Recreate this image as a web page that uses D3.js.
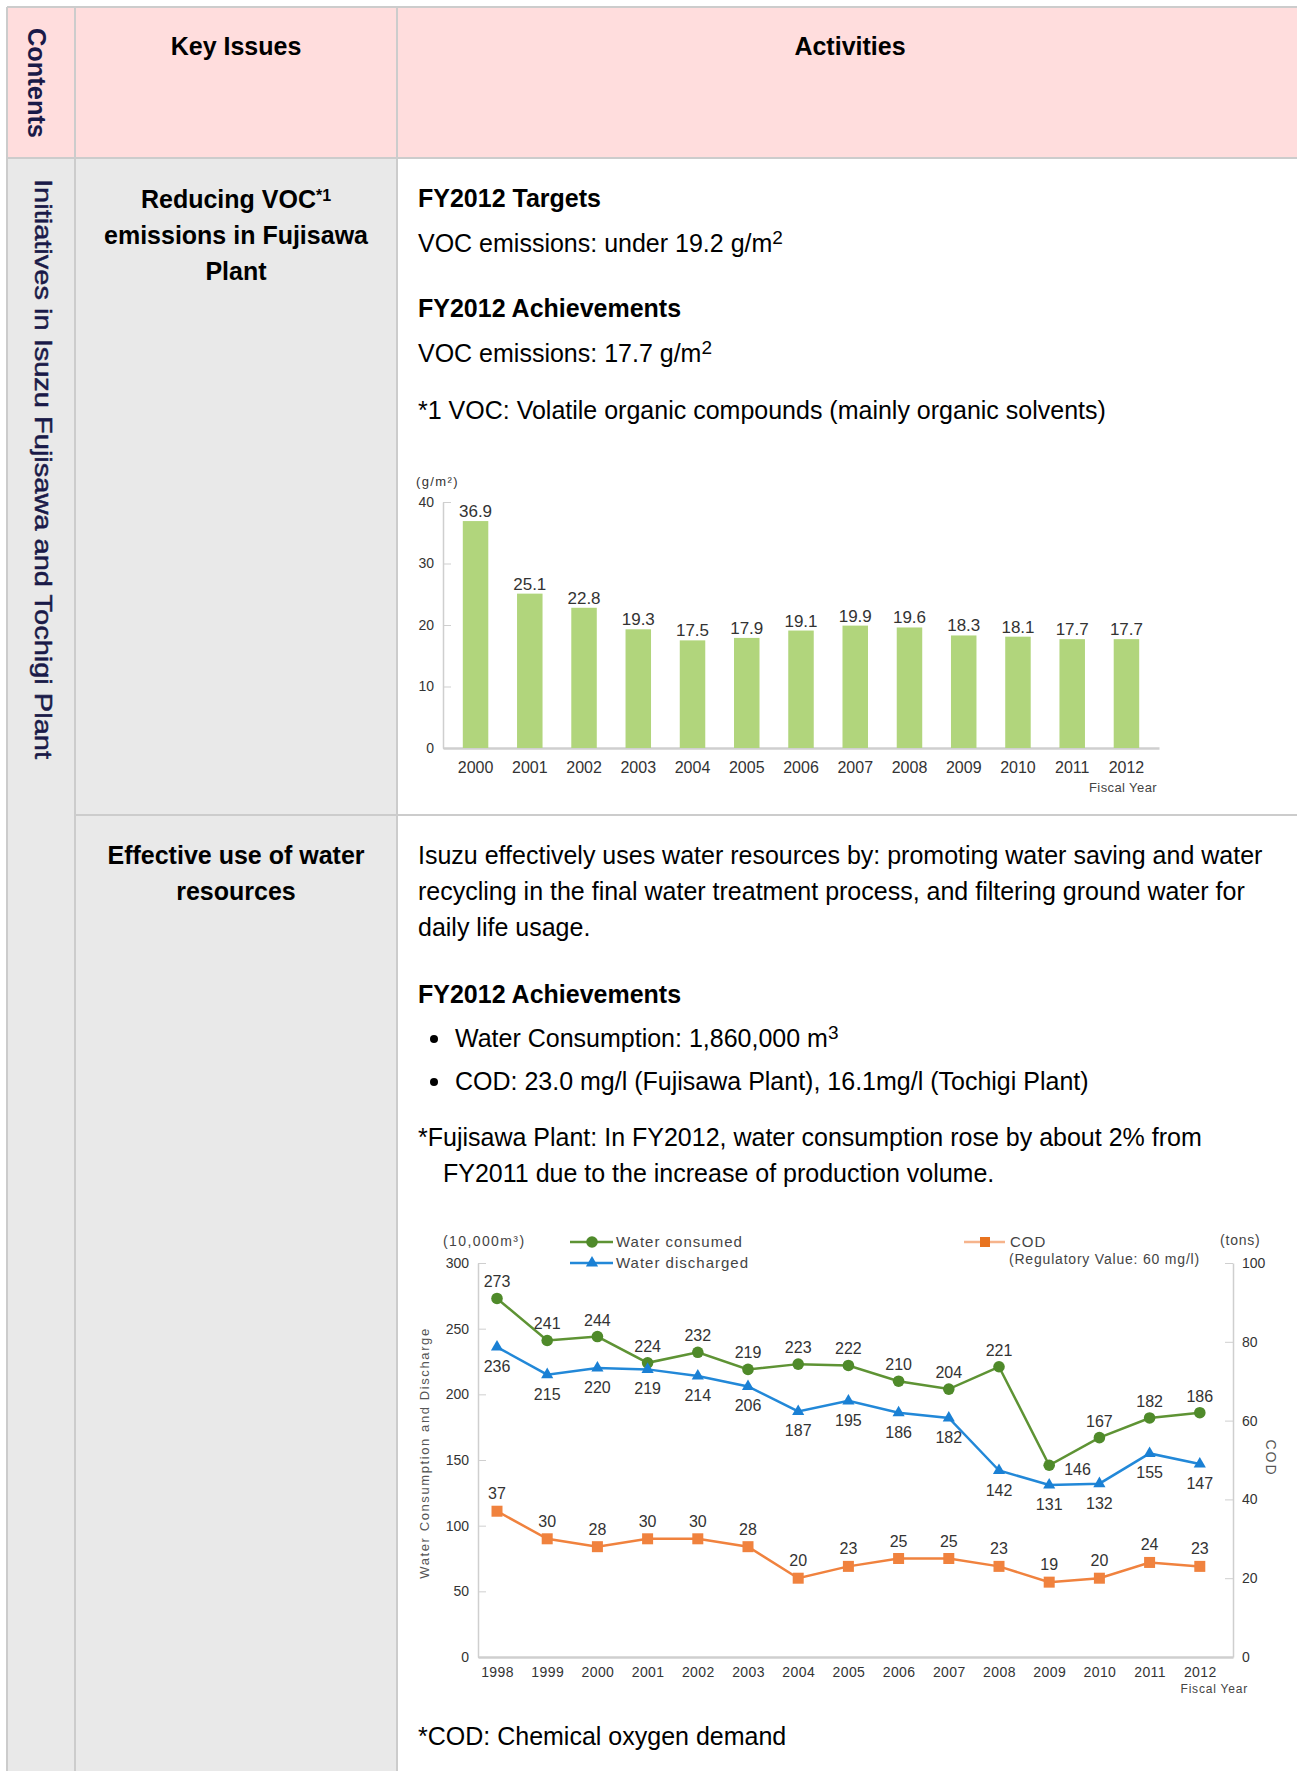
<!DOCTYPE html>
<html>
<head>
<meta charset="utf-8">
<script src="https://cdn.jsdelivr.net/npm/d3@7"></script>
<style>
  body { margin: 0; background: #fff; }
  svg { display: block; font-family: "Liberation Sans", Arial, sans-serif; }
  .axis path, .axis line { stroke: #cfcfcf; }
  .axis text { fill: #333; }
</style>
</head>
<body>
<script>
// VOC emissions (g/m2)
var vocYears = ['2000', '2001', '2002', '2003', '2004', '2005', '2006', '2007', '2008', '2009', '2010', '2011', '2012'];
var vocValues = [36.9, 25.1, 22.8, 19.3, 17.5, 17.9, 19.1, 19.9, 19.6, 18.3, 18.1, 17.7, 17.7];
var vocTicks = [0, 10, 20, 30, 40];

// water (10,000m3) and COD (tons)
var waterYears = ['1998', '1999', '2000', '2001', '2002', '2003', '2004', '2005', '2006', '2007', '2008', '2009', '2010', '2011', '2012'];
var waterConsumed = [273, 241, 244, 224, 232, 219, 223, 222, 210, 204, 221, 146, 167, 182, 186];
var waterDischarged = [236, 215, 220, 219, 214, 206, 187, 195, 186, 182, 142, 131, 132, 155, 147];
var codValues = [37, 30, 28, 30, 30, 28, 20, 23, 25, 25, 23, 19, 20, 24, 23];
var waterTicks = [0, 50, 100, 150, 200, 250, 300];
var codTicks = [0, 20, 40, 60, 80, 100];

var W = 1297, H = 1771;
var svg = d3.select('body').append('svg')
  .attr('width', W)
  .attr('height', H);

// TABLE
var tL = 7, tT = 7, tR = 1303, c1 = 75, c2 = 397, hB = 158, r1B = 815;
var border = '#cccccc';

svg.append('rect').attr('x', tL).attr('y', tT).attr('width', tR - tL).attr('height', hB - tT).attr('fill', '#ffdddd');
svg.append('rect').attr('x', tL).attr('y', hB).attr('width', c2 - tL).attr('height', H - hB + 20).attr('fill', '#e9e9e9');

var borders = [
  [tL, tT, tR, tT], [tL, hB, tR, hB], [c1, r1B, tR, r1B],
  [tL, tT, tL, H + 10], [c1, tT, c1, H + 10], [c2, tT, c2, H + 10]
];
svg.selectAll('.border').data(borders).enter().append('line')
  .attr('class', 'border')
  .attr('x1', function (d) { return d[0]; }).attr('y1', function (d) { return d[1]; })
  .attr('x2', function (d) { return d[2]; }).attr('y2', function (d) { return d[3]; })
  .attr('stroke', border).attr('stroke-width', 2);

//header
svg.append('text').attr('x', 236).attr('y', 55).attr('text-anchor', 'middle')
  .style('font-size', '25px').style('font-weight', 'bold').text('Key Issues');
svg.append('text').attr('x', 850).attr('y', 55).attr('text-anchor', 'middle')
  .style('font-size', '25px').style('font-weight', 'bold').text('Activities');

//vertical texts
svg.append('text').attr('transform', 'translate(28,28) rotate(90)')
  .attr('textLength', 110).attr('lengthAdjust', 'spacingAndGlyphs')
  .style('font-size', '26px').style('font-weight', 'bold').attr('fill', '#1a1a48')
  .text('Contents');
svg.append('text').attr('transform', 'translate(35,179) rotate(90)')
  .attr('textLength', 580).attr('lengthAdjust', 'spacingAndGlyphs')
  .style('font-size', '24px').attr('fill', '#1a1a48')
  .attr('stroke', '#1a1a48').attr('stroke-width', 0.5)
  .text('Initiatives in Isuzu Fujisawa and Tochigi Plant');

function addText(x, y, str, opts) {
  opts = opts || {};
  var t = svg.append('text').attr('x', x).attr('y', y)
    .style('font-size', '25px')
    .attr('fill', '#000');
  if (opts.bold) t.style('font-weight', 'bold');
  if (opts.anchor) t.attr('text-anchor', opts.anchor);
  t.append('tspan').text(str);
  if (opts.sup) {
    t.append('tspan').attr('dy', opts.supDy || -8).style('font-size', opts.supSize || '19px').text(opts.sup);
  }
  return t;
}

//row 1
addText(236, 208, 'Reducing VOC', { bold: true, anchor: 'middle', sup: '*1', supSize: '16px', supDy: -7 });
addText(236, 244, 'emissions in Fujisawa', { bold: true, anchor: 'middle' });
addText(236, 280, 'Plant', { bold: true, anchor: 'middle' });

addText(418, 207, 'FY2012 Targets', { bold: true });
addText(418, 252, 'VOC emissions: under 19.2 g/m', { sup: '2' });
addText(418, 317, 'FY2012 Achievements', { bold: true });
addText(418, 362, 'VOC emissions: 17.7 g/m', { sup: '2' });
addText(418, 419, '*1 VOC: Volatile organic compounds (mainly organic solvents)');

//row 2
addText(236, 864, 'Effective use of water', { bold: true, anchor: 'middle' });
addText(236, 900, 'resources', { bold: true, anchor: 'middle' });

addText(418, 864, 'Isuzu effectively uses water resources by: promoting water saving and water');
addText(418, 900, 'recycling in the final water treatment process, and filtering ground water for');
addText(418, 936, 'daily life usage.');
addText(418, 1003, 'FY2012 Achievements', { bold: true });
svg.append('circle').attr('cx', 434).attr('cy', 1039).attr('r', 4).attr('fill', '#000');
addText(455, 1047, 'Water Consumption: 1,860,000 m', { sup: '3' });
svg.append('circle').attr('cx', 434).attr('cy', 1082).attr('r', 4).attr('fill', '#000');
addText(455, 1090, 'COD: 23.0 mg/l (Fujisawa Plant), 16.1mg/l (Tochigi Plant)');
addText(418, 1146, '*Fujisawa Plant: In FY2012, water consumption rose by about 2% from');
addText(443, 1182, 'FY2011 due to the increase of production volume.');
addText(418, 1745, '*COD: Chemical oxygen demand');

//BAR CHART
var bx = d3.scaleBand().domain(vocYears).range([443, 1159]).paddingInner(0.53).paddingOuter(0.365);
var by = d3.scaleLinear().domain([0, 40]).range([748, 502]);

var barG = svg.append('g');

barG.append('g').attr('class', 'axis')
  .attr('transform', 'translate(443,0)')
  .call(d3.axisLeft(by).tickValues(vocTicks).tickSize(-8).tickSizeOuter(0).tickPadding(9))
  .call(function (g) { g.selectAll('text').style('font-size', '14px'); g.select('.domain').attr('stroke-width', 1.5); });

barG.append('g').attr('class', 'axis')
  .attr('transform', 'translate(0,748)')
  .call(d3.axisBottom(bx).tickSize(0).tickPadding(14))
  .call(function (g) { g.selectAll('text').style('font-size', '16px'); g.select('.domain').attr('stroke-width', 2.5); });

barG.selectAll('.bar')
  .data(vocValues)
  .enter().append('rect')
  .attr('class', 'bar')
  .attr('x', function (d, i) { return bx(vocYears[i]); })
  .attr('y', function (d) { return by(d); })
  .attr('width', bx.bandwidth())
  .attr('height', function (d) { return by(0) - by(d); })
  .attr('fill', '#b1d57c');

barG.selectAll('.barlabel')
  .data(vocValues)
  .enter().append('text')
  .attr('class', 'barlabel')
  .attr('x', function (d, i) { return bx(vocYears[i]) + bx.bandwidth() / 2; })
  .attr('y', function (d) { return by(d) - 4; })
  .attr('text-anchor', 'middle')
  .style('font-size', '17px')
  .attr('fill', '#333')
  .text(function (d) { return d.toFixed(1); });

barG.append('text').attr('x', 416).attr('y', 486).style('font-size', '13px').style('letter-spacing', '1.4px')
  .attr('fill', '#333').text('(g/m²)');
barG.append('text').attr('x', 1157).attr('y', 792).attr('text-anchor', 'end').style('font-size', '13px')
  .style('letter-spacing', '0.4px').attr('fill', '#444').text('Fiscal Year');

//LINE CHART
var green = '#5e9334', blue = '#2288d8', orange = '#f0823e';
var lx = d3.scalePoint().domain(waterYears).range([478, 1233]).padding(0.52).align(0.364);
var ly = d3.scaleLinear().domain([0, 300]).range([1657, 1263]);
var cy = d3.scaleLinear().domain([0, 100]).range([1657, 1263]);

var lineG = svg.append('g');

lineG.append('g').attr('class', 'axis')
  .attr('transform', 'translate(478,0)')
  .call(d3.axisLeft(ly).tickValues(waterTicks).tickSize(-8).tickSizeOuter(0).tickPadding(9))
  .call(function (g) { g.selectAll('text').style('font-size', '14px'); g.select('.domain').attr('stroke-width', 1.5); });

lineG.append('g').attr('class', 'axis')
  .attr('transform', 'translate(1233,0)')
  .call(d3.axisRight(cy).tickValues(codTicks).tickSize(-8).tickSizeOuter(0).tickPadding(9))
  .call(function (g) { g.selectAll('text').style('font-size', '14px'); g.select('.domain').attr('stroke-width', 1.5); });

lineG.append('g').attr('class', 'axis')
  .attr('transform', 'translate(0,1657)')
  .call(d3.axisBottom(lx).tickSize(0).tickPadding(10))
  .call(function (g) {
    g.selectAll('text').style('font-size', '14px').style('letter-spacing', '0.4px');
    g.select('.domain').attr('stroke-width', 2.5);
  });

function drawSeries(values, scale, color) {
  var line = d3.line()
    .x(function (d, i) { return lx(waterYears[i]); })
    .y(function (d) { return scale(d); });
  lineG.append('path')
    .datum(values)
    .attr('d', line)
    .attr('fill', 'none')
    .attr('stroke', color)
    .attr('stroke-width', 2.5);
}

drawSeries(waterConsumed, ly, green);
drawSeries(waterDischarged, ly, blue);
drawSeries(codValues, cy, orange);

lineG.selectAll('.gdot').data(waterConsumed).enter().append('circle')
  .attr('class', 'gdot')
  .attr('cx', function (d, i) { return lx(waterYears[i]); })
  .attr('cy', function (d) { return ly(d); })
  .attr('r', 5.8)
  .attr('fill', '#4f8a2a');

lineG.selectAll('.bdot').data(waterDischarged).enter().append('path')
  .attr('class', 'bdot')
  .attr('transform', function (d, i) { return 'translate(' + lx(waterYears[i]) + ',' + ly(d) + ')'; })
  .attr('d', d3.symbol(d3.symbolTriangle).size(64))
  .attr('fill', '#1a80d4');

lineG.selectAll('.odot').data(codValues).enter().append('rect')
  .attr('class', 'odot')
  .attr('x', function (d, i) { return lx(waterYears[i]) - 5.5; })
  .attr('y', function (d) { return cy(d) - 5.5; })
  .attr('width', 11).attr('height', 11)
  .attr('fill', orange);

//value labels
lineG.selectAll('.glab').data(waterConsumed).enter().append('text')
  .attr('class', 'glab')
  .attr('x', function (d, i) { return lx(waterYears[i]) + (waterYears[i] === '2009' ? 15 : 0); })
  .attr('y', function (d, i) { return ly(d) + (waterYears[i] === '2009' ? 10 : -11); })
  .attr('text-anchor', function (d, i) { return waterYears[i] === '2009' ? 'start' : 'middle'; })
  .style('font-size', '16px').attr('fill', '#333')
  .text(function (d) { return d; });

lineG.selectAll('.blab').data(waterDischarged).enter().append('text')
  .attr('class', 'blab')
  .attr('x', function (d, i) { return lx(waterYears[i]); })
  .attr('y', function (d) { return ly(d) + 25; })
  .attr('text-anchor', 'middle')
  .style('font-size', '16px').attr('fill', '#333')
  .text(function (d) { return d; });

lineG.selectAll('.olab').data(codValues).enter().append('text')
  .attr('class', 'olab')
  .attr('x', function (d, i) { return lx(waterYears[i]); })
  .attr('y', function (d) { return cy(d) - 12; })
  .attr('text-anchor', 'middle')
  .style('font-size', '16px').attr('fill', '#333')
  .text(function (d) { return d; });

//legend and titles
lineG.append('text').attr('x', 443).attr('y', 1246).style('font-size', '14px').style('letter-spacing', '1.4px')
  .attr('fill', '#444').text('(10,000m³)');

lineG.append('line').attr('x1', 570).attr('x2', 613).attr('y1', 1242).attr('y2', 1242).attr('stroke', green).attr('stroke-width', 2.5);
lineG.append('circle').attr('cx', 592).attr('cy', 1242).attr('r', 5.8).attr('fill', '#4f8a2a');
lineG.append('text').attr('x', 616).attr('y', 1247).style('font-size', '15px').style('letter-spacing', '1px')
  .attr('fill', '#444').text('Water consumed');

lineG.append('line').attr('x1', 570).attr('x2', 613).attr('y1', 1263).attr('y2', 1263).attr('stroke', blue).attr('stroke-width', 2.5);
lineG.append('path').attr('transform', 'translate(592,1263)').attr('d', d3.symbol(d3.symbolTriangle).size(64)).attr('fill', '#1a80d4');
lineG.append('text').attr('x', 616).attr('y', 1268).style('font-size', '15px').style('letter-spacing', '1px')
  .attr('fill', '#444').text('Water discharged');

lineG.append('line').attr('x1', 964).attr('x2', 1005).attr('y1', 1242).attr('y2', 1242).attr('stroke', '#f6b48c').attr('stroke-width', 2.5);
lineG.append('rect').attr('x', 980).attr('y', 1237).attr('width', 10).attr('height', 10).attr('fill', '#e8731f');
lineG.append('text').attr('x', 1010).attr('y', 1247).style('font-size', '15px').style('letter-spacing', '1px')
  .attr('fill', '#444').text('COD');
lineG.append('text').attr('x', 1009).attr('y', 1264).style('font-size', '14px').style('letter-spacing', '0.8px')
  .attr('fill', '#444').text('(Regulatory Value: 60 mg/l)');
lineG.append('text').attr('x', 1220).attr('y', 1245).style('font-size', '14px').style('letter-spacing', '0.8px')
  .attr('fill', '#444').text('(tons)');

lineG.append('text').attr('transform', 'translate(429,1453) rotate(-90)')
  .attr('text-anchor', 'middle').style('font-size', '13px').style('letter-spacing', '1.6px').attr('fill', '#555')
  .text('Water Consumption and Discharge');
lineG.append('text').attr('transform', 'translate(1266,1458) rotate(90)')
  .attr('text-anchor', 'middle').style('font-size', '14px').style('letter-spacing', '2px').attr('fill', '#555')
  .text('COD');
lineG.append('text').attr('x', 1248).attr('y', 1693).attr('text-anchor', 'end').style('font-size', '12px')
  .style('letter-spacing', '0.8px').attr('fill', '#444').text('Fiscal Year');
</script>
</body>
</html>
